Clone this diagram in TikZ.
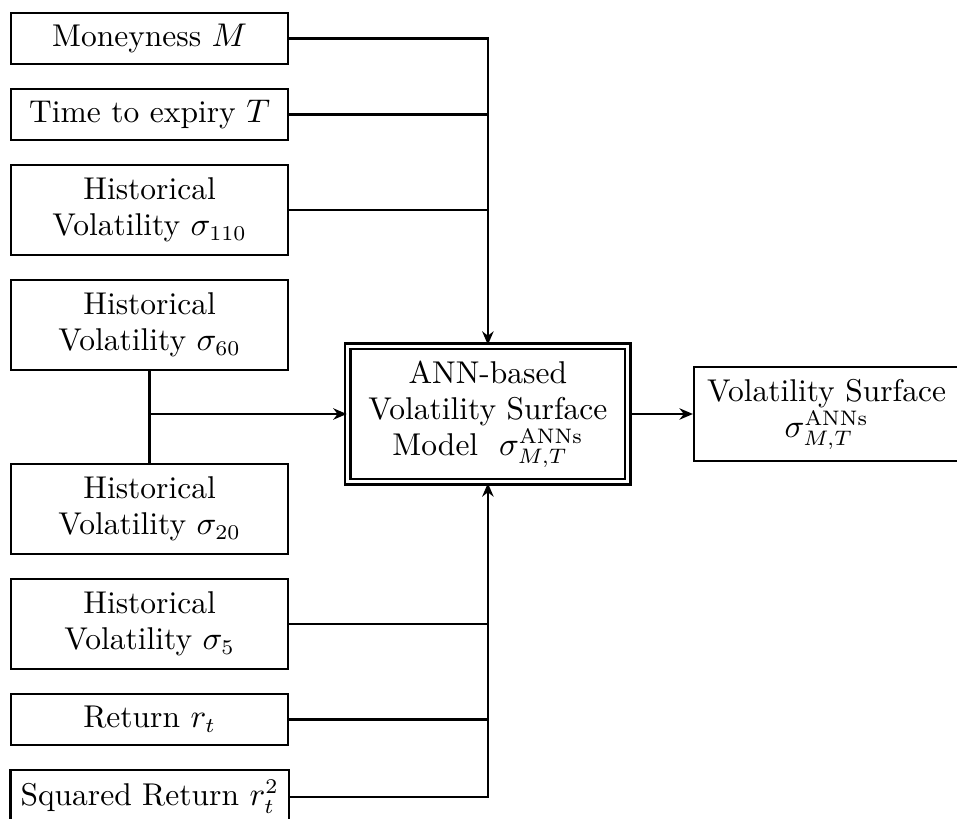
\documentclass[tikz,border=0pt]{standalone}
\usepackage{tikz}
\usetikzlibrary{positioning,arrows.meta}

\begin{document}
\begin{tikzpicture}[
			thick, >={Stealth[length=4.5pt,width=3.8pt]},
			every node/.style = {shape=rectangle,
					draw, align=center,
					font=\fontsize{10.5}{12}\selectfont},
			input/.style = {minimum width=92.3pt, minimum height=16.9pt},
			input2/.style = {input, minimum height=30pt},
			model/.style = {double, double distance=1pt,
					minimum width=93.3pt, minimum height=45.3pt},
			surface/.style = {minimum width=88.3pt, minimum height=31.5pt},
			node distance=7.6pt]
		\useasboundingbox (-3.33pt,4pt) rectangle (315.67pt,-268.67pt);
		% inputs
		\node[input, anchor=north west] (money) at (0,0) {Moneyness $M$};
		\node[input, below=of money] (expiry) {Time to expiry $T$};
		\node[input2, below=of expiry] (hv110) {Historical\\ Volatility $\sigma_{110}$};
		\node[input2, below=of hv110] (hv60) {Historical\\ Volatility $\sigma_{60}$};
		\node[input2, below=30.4pt of hv60] (hv20) {Historical\\ Volatility $\sigma_{20}$};
		\node[input2, below=of hv20] (hv5) {Historical\\ Volatility $\sigma_{5}$};
		\node[input, below=of hv5] (ret) {Return $r_t$};
		\node[input, below=of ret] (sqret) {Squared Return $r_t^2$};
		% model and output
		\node[model] (ann) at (159.3pt,-134pt) {ANN-based\\ Volatility Surface\\ Model~~$\sigma^{\mathrm{ANNs}}_{M,T}$};
		\node[surface, right=21.3pt of ann] (out) {Volatility Surface\\ $\sigma^{\mathrm{ANNs}}_{M,T}$};
		% connectors
		\draw[->] (money.east) -| (ann.north);
		\draw (expiry.east) -- (expiry.east -| ann.north);
		\draw (hv110.east) -- (hv110.east -| ann.north);
		\draw (hv60.south) -- (hv20.north);
		\draw[->] (hv60.south |- ann.west) -- (ann.west);
		\draw[->] (sqret.east) -| (ann.south);
		\draw (hv5.east) -- (hv5.east -| ann.south);
		\draw (ret.east) -- (ret.east -| ann.south);
		\draw[->] (ann.east) -- (out.west);
\end{tikzpicture}
\end{document}
